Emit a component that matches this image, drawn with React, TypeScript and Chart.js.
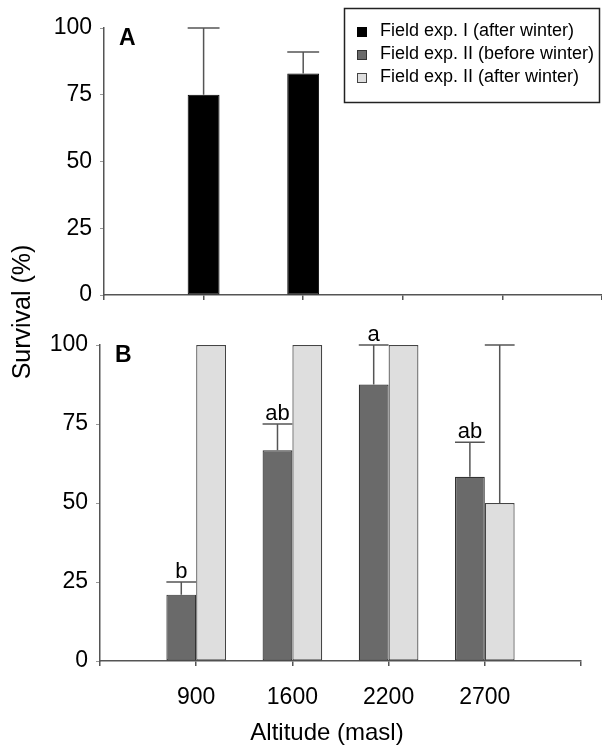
import React, { useEffect, useRef } from "react";
import { Chart, registerables } from "chart.js";

Chart.register(...registerables);

// ---- data ----
const altitudes = ["900", "1600", "2200", "2700"];
const seriesNames = [
  "Field exp. I (after winter)",
  "Field exp. II (before winter)",
  "Field exp. II (after winter)",
];
const fieldIAfter = [75, 83, null, null];
const fieldIAfterErr = [100, 91, null, null];
const fieldIIBefore = [21, 66.7, 87.5, 58.3];
const fieldIIBeforeErr = [25, 75, 100, 69.2];
const fieldIIAfter = [100, 100, 100, 50];
const fieldIIAfterErr = [null, null, null, 100];
const sigLetters = ["b", "ab", "a", "ab"];
const yTicks = [0, 25, 50, 75, 100];
const yTitle = "Survival (%)";
const xTitle = "Altitude (masl)";

const COLORS = ["#000000", "#6a6a6a", "#dedede"];
const BORDERS = ["#000000", "#333333", "#444444"];
const AXIS = "#555555";
const FONT = "'Liberation Sans', Arial, sans-serif";
const W = 602;
const H = 746;

const pad = (arr: (number | null)[]) => [null, ...arr, null];
const paddedLabels = ["", ...altitudes, ""];

const errorBarPlugin = {
  id: "errorBars",
  afterDatasetsDraw(chart: any) {
    const ctx = chart.ctx;
    const yScale = chart.scales.y;
    chart.data.datasets.forEach((ds: any, i: number) => {
      const meta = chart.getDatasetMeta(i);
      if (!ds.errorTops) return;
      meta.data.forEach((el: any, j: number) => {
        const e = ds.errorTops[j];
        const v = ds.data[j];
        if (e == null || v == null) return;
        const ey = yScale.getPixelForValue(e);
        const half = el.width / 2;
        ctx.save();
        ctx.strokeStyle = AXIS;
        ctx.lineWidth = 1.5;
        ctx.beginPath();
        ctx.moveTo(el.x, el.y);
        ctx.lineTo(el.x, ey);
        ctx.moveTo(el.x - half, ey);
        ctx.lineTo(el.x + half, ey);
        ctx.stroke();
        if (ds.letters && ds.letters[j]) {
          ctx.fillStyle = "#000";
          ctx.font = `22px ${FONT}`;
          ctx.textAlign = "center";
          ctx.textBaseline = "alphabetic";
          ctx.fillText(ds.letters[j], el.x, ey - 4);
        }
        ctx.restore();
      });
    });
  },
};

const panelLetterPlugin = {
  id: "panelLetter",
  afterDraw(chart: any, _args: any, opts: any) {
    if (!opts || !opts.text) return;
    const ctx = chart.ctx;
    const a = chart.chartArea;
    ctx.save();
    ctx.fillStyle = "#000";
    ctx.font = `bold 23px ${FONT}`;
    ctx.textAlign = "left";
    ctx.textBaseline = "top";
    ctx.fillText(opts.text, a.left + 15, a.top - 1);
    ctx.restore();
  },
};

const boxLegendPlugin = {
  id: "boxLegend",
  afterDraw(chart: any, _args: any, opts: any) {
    if (!opts || !opts.show) return;
    const ctx = chart.ctx;
    ctx.save();
    ctx.strokeStyle = "#222";
    ctx.lineWidth = 1.5;
    ctx.strokeRect(344.5, 8.5, 255, 94);
    ctx.font = `18px ${FONT}`;
    ctx.textBaseline = "middle";
    ctx.textAlign = "left";
    seriesNames.forEach((name, i) => {
      const cy = 31 + i * 23;
      ctx.fillStyle = COLORS[i];
      ctx.fillRect(357, cy - 4, 10, 10);
      ctx.strokeStyle = BORDERS[i];
      ctx.lineWidth = 1;
      ctx.strokeRect(357.5, cy - 3.5, 9, 9);
      ctx.fillStyle = "#000";
      ctx.fillText(name, 380, cy);
    });
    ctx.restore();
  },
};

const axisTitlesPlugin = {
  id: "axisTitles",
  afterDraw(chart: any, _args: any, opts: any) {
    if (!opts || !opts.show) return;
    const ctx = chart.ctx;
    ctx.save();
    ctx.fillStyle = "#000";
    ctx.font = `24px ${FONT}`;
    ctx.textAlign = "center";
    ctx.textBaseline = "middle";
    ctx.fillText(xTitle, 327, 733);
    ctx.translate(23, 312);
    ctx.rotate(-Math.PI / 2);
    ctx.font = `25px ${FONT}`;
    ctx.fillText(yTitle, 0, 0);
    ctx.restore();
  },
};

function makeScales(yWidth: number, xHeight: number, showX: boolean) {
  return {
    x: {
      type: "category" as const,
      offset: false,
      afterFit: (s: any) => {
        s.height = xHeight;
      },
      border: { color: AXIS, width: 1.5 },
      grid: {
        display: true,
        offset: false,
        drawOnChartArea: false,
        drawTicks: true,
        tickLength: 5,
        color: AXIS,
        lineWidth: 1.5,
      },
      ticks: {
        display: showX,
        autoSkip: false,
        maxRotation: 0,
        padding: 18,
        color: "#000",
        font: { family: FONT, size: 23 },
      },
    },
    y: {
      min: 0,
      max: 100,
      afterFit: (s: any) => {
        s.width = yWidth;
      },
      afterBuildTicks: (s: any) => {
        s.ticks = yTicks.map((v) => ({ value: v }));
      },
      border: { color: AXIS, width: 1.5 },
      grid: {
        display: true,
        drawOnChartArea: false,
        drawTicks: true,
        tickLength: 4,
        color: "#999",
        lineWidth: 1,
      },
      ticks: {
        padding: 8,
        color: "#000",
        font: { family: FONT, size: 23 },
      },
    },
  };
}

export default function App() {
  const refA = useRef<HTMLCanvasElement | null>(null);
  const refB = useRef<HTMLCanvasElement | null>(null);

  useEffect(() => {
    const chartA = new Chart(refA.current as HTMLCanvasElement, {
      type: "bar",
      data: {
        labels: paddedLabels,
        datasets: [
          {
            label: seriesNames[0],
            data: pad(fieldIAfter),
            errorTops: pad(fieldIAfterErr),
            backgroundColor: COLORS[0],
            borderColor: BORDERS[0],
            borderWidth: 1,
            borderSkipped: false,
            categoryPercentage: 0.32,
            barPercentage: 1,
          } as any,
        ],
      },
      options: {
        animation: false,
        responsive: false,
        maintainAspectRatio: false,
        layout: { padding: { top: 28, left: 0, right: 0, bottom: 0 }, autoPadding: false } as any,
        scales: makeScales(104, H - 295, false) as any,
        plugins: {
          legend: { display: false },
          tooltip: { enabled: false },
          panelLetter: { text: "A" },
          boxLegend: { show: true },
        } as any,
      },
      plugins: [errorBarPlugin, panelLetterPlugin, boxLegendPlugin],
    });

    const chartB = new Chart(refB.current as HTMLCanvasElement, {
      type: "bar",
      data: {
        labels: paddedLabels,
        datasets: [
          {
            label: seriesNames[1],
            data: pad(fieldIIBefore),
            errorTops: pad(fieldIIBeforeErr),
            letters: ["", ...sigLetters, ""],
            backgroundColor: COLORS[1],
            borderColor: BORDERS[1],
            borderWidth: 1.2,
            borderSkipped: false,
            categoryPercentage: 0.62,
            barPercentage: 1,
          } as any,
          {
            label: seriesNames[2],
            data: pad(fieldIIAfter),
            errorTops: pad(fieldIIAfterErr),
            backgroundColor: COLORS[2],
            borderColor: BORDERS[2],
            borderWidth: 1.2,
            borderSkipped: false,
            categoryPercentage: 0.62,
            barPercentage: 1,
          } as any,
        ],
      },
      options: {
        animation: false,
        responsive: false,
        maintainAspectRatio: false,
        layout: { padding: { top: 345, left: 0, right: W - 581, bottom: 0 }, autoPadding: false } as any,
        scales: makeScales(100, H - 661, true) as any,
        plugins: {
          legend: { display: false },
          tooltip: { enabled: false },
          panelLetter: { text: "B" },
          axisTitles: { show: true },
        } as any,
      },
      plugins: [errorBarPlugin, panelLetterPlugin, axisTitlesPlugin],
    });

    return () => {
      chartA.destroy();
      chartB.destroy();
    };
  }, []);

  const cStyle: React.CSSProperties = { position: "absolute", left: 0, top: 0 };
  return (
    <div style={{ position: "fixed", left: 0, top: 0, width: W, height: H, background: "#fff" }}>
      <canvas ref={refA} width={W} height={H} style={cStyle} />
      <canvas ref={refB} width={W} height={H} style={cStyle} />
    </div>
  );
}
